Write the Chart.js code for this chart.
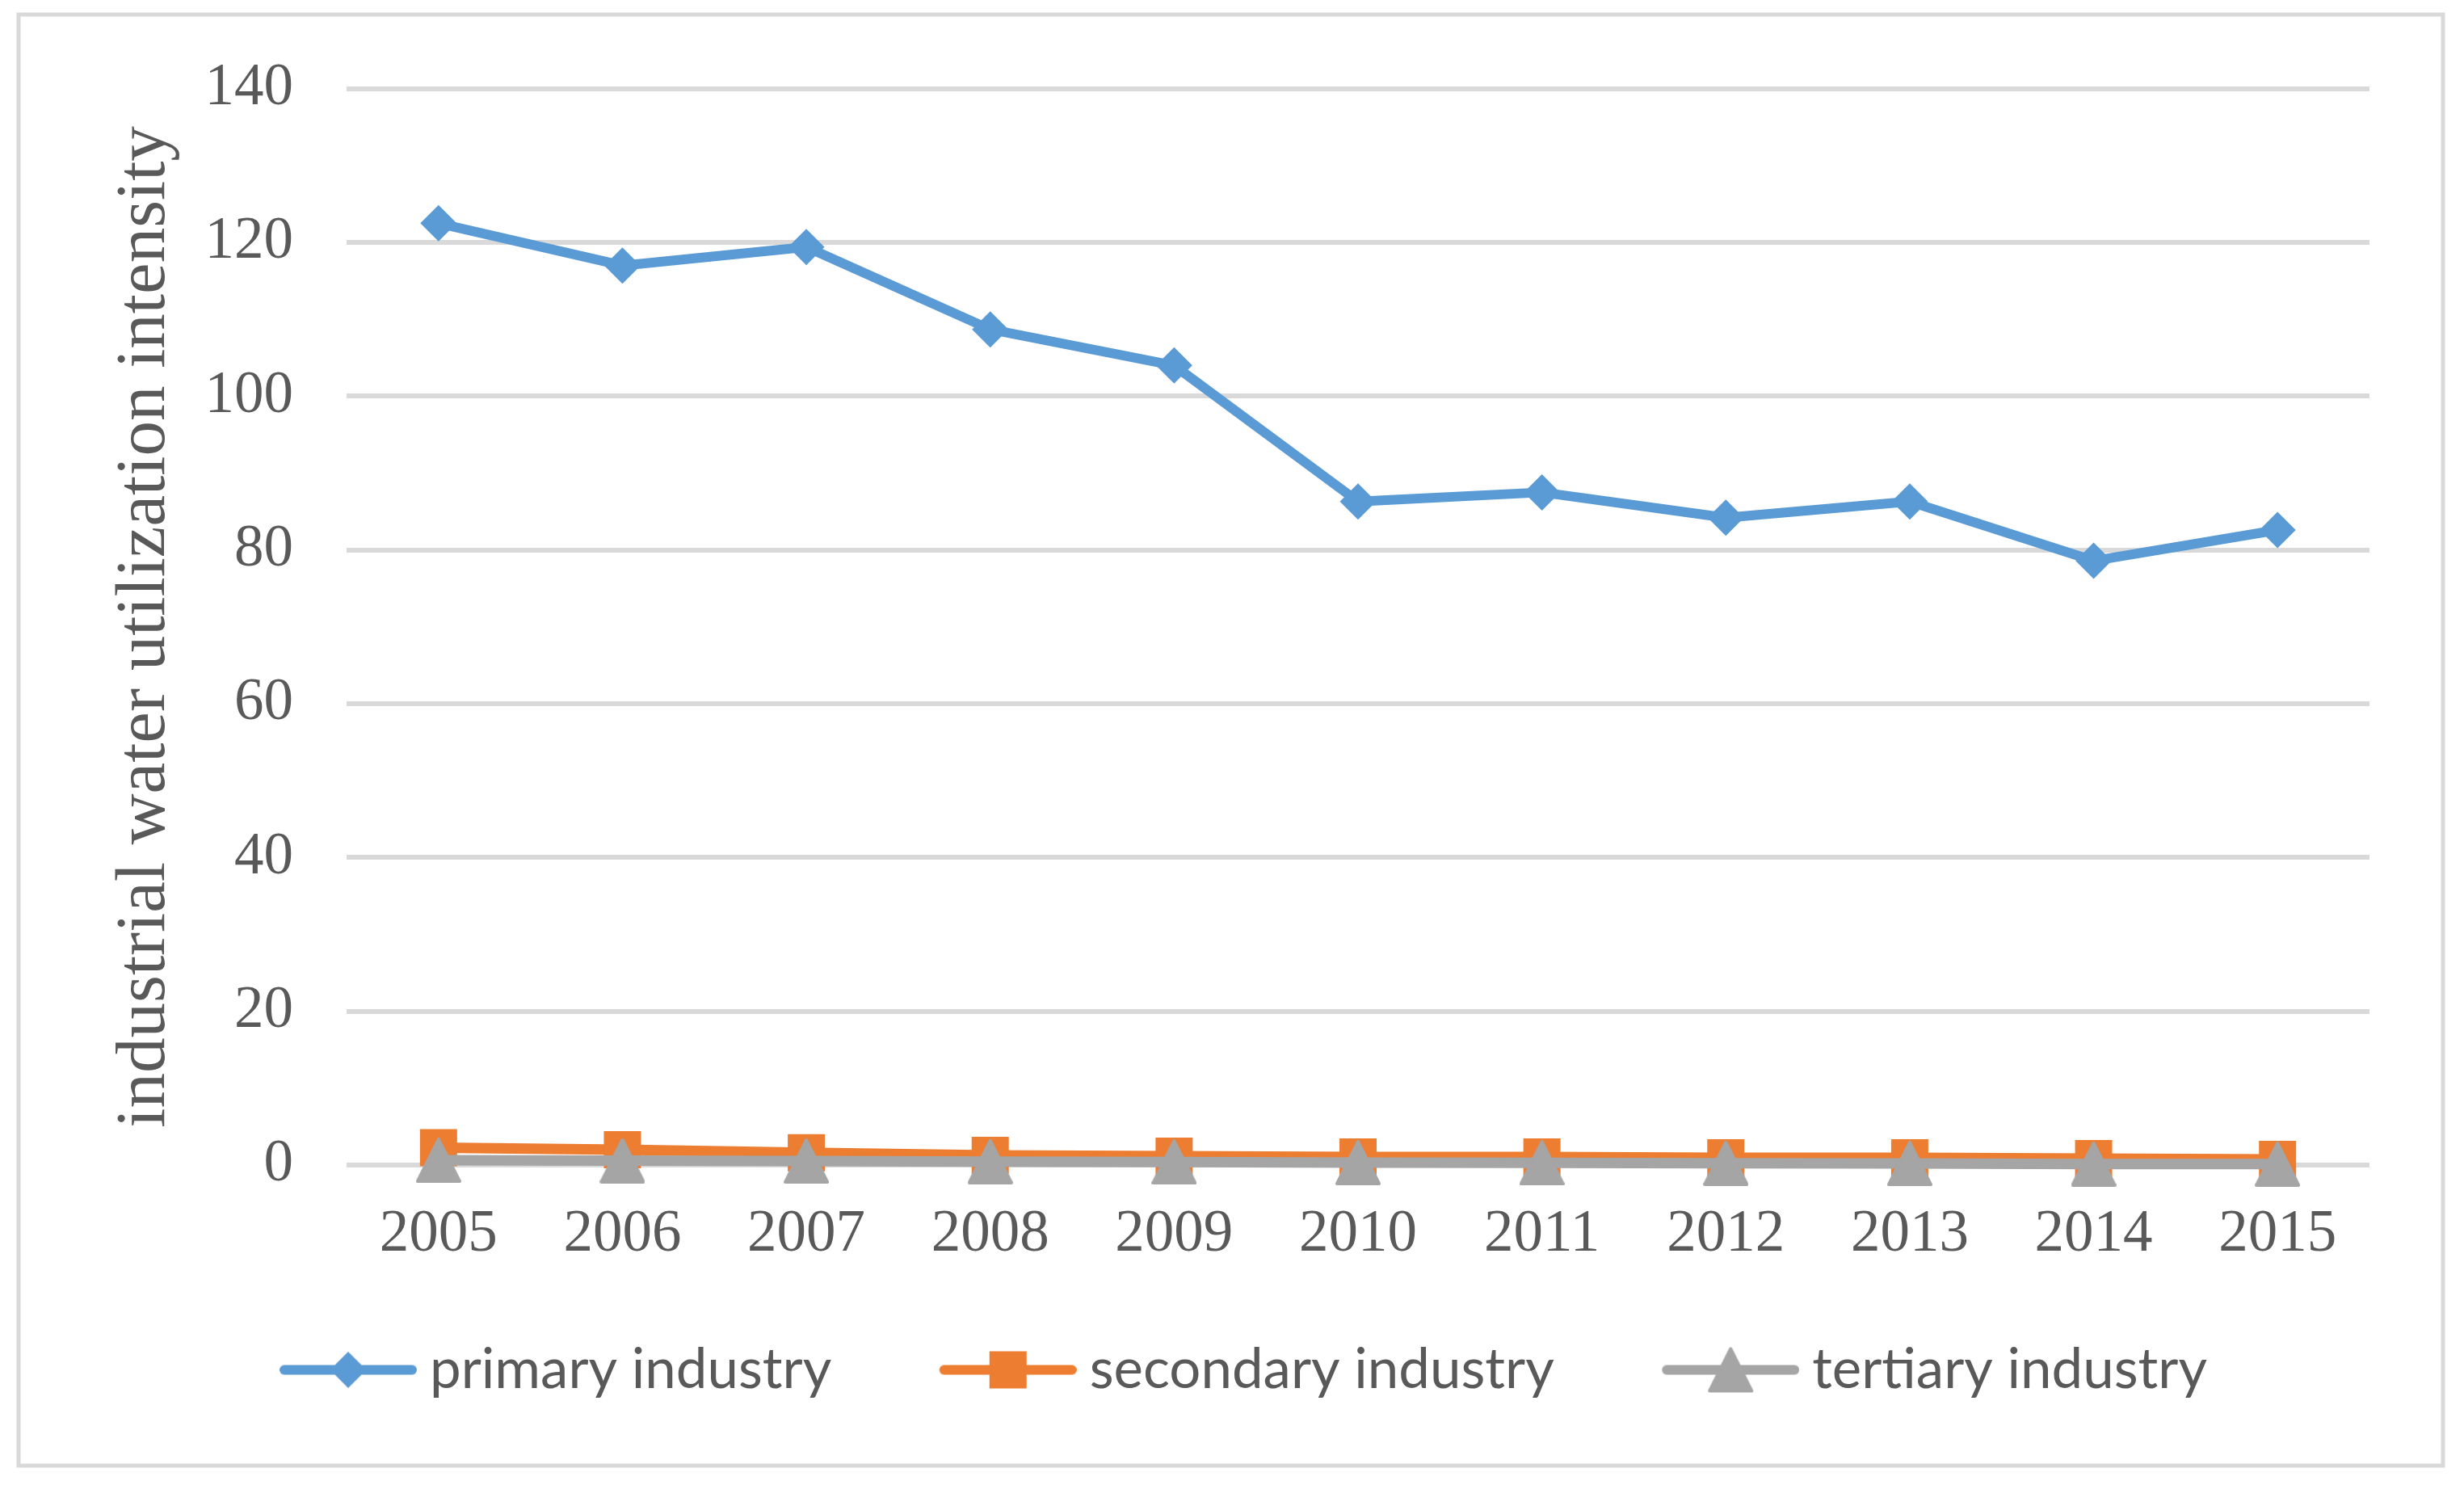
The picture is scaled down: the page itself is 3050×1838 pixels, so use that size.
<!DOCTYPE html>
<html>
<head>
<meta charset="utf-8">
<script src="https://cdn.jsdelivr.net/npm/chart.js@4.4.0/dist/chart.umd.min.js"></script>
<style>
  html, body { margin: 0; padding: 0; background: #ffffff; }
  canvas { display: block; }
</style>
</head>
<body>
<canvas id="chart" width="3050" height="1838"></canvas>
<script>
// ---------------- data ----------------
const years = ['2005', '2006', '2007', '2008', '2009', '2010', '2011', '2012', '2013', '2014', '2015'];
const primaryIndustry   = [122.5, 117.0, 119.4, 108.7, 104.0, 86.3, 87.5, 84.2, 86.3, 78.6, 82.6];
const secondaryIndustry = [2.27, 1.99, 1.60, 1.26, 1.15, 1.05, 1.05, 0.94, 0.94, 0.84, 0.73];
const tertiaryIndustry  = [0.62, 0.57, 0.52, 0.45, 0.40, 0.32, 0.28, 0.24, 0.20, 0.14, 0.12];
const yTickValues = [0, 20, 40, 60, 80, 100, 120, 140];
const yTickLabels = ['0', '20', '40', '60', '80', '100', '120', '140'];
const seriesNames = ['primary industry', 'secondary industry', 'tertiary industry'];
const yAxisTitle = 'industrial water utilization intensity';

// ---------------- styles ----------------
const COLORS = ['#5B9BD5', '#ED7D31', '#A5A5A5'];
const TEXT = '#595959';
const GRID = '#D9D9D9';
const SERIF = "'Liberation Serif', 'Times New Roman', serif";
const SANS = "Lato, 'Open Sans', sans-serif";

const LEG_FS = 69;       // legend font size
const LEG_PAD = 45;      // legend padding
const LEG_BW = 240;      // legend box width
const SYM_W = 170;       // visible legend symbol width
const ICON_W = Math.round(2 * (LEG_BW / 2 + LEG_FS / 2 - 16));

function triangleImage(color, w, h) {
  const c = document.createElement('canvas');
  c.width = w + 4; c.height = h + 4;
  const g = c.getContext('2d');
  g.fillStyle = color; g.strokeStyle = color;
  g.lineJoin = 'round'; g.lineWidth = 4;
  g.beginPath();
  g.moveTo(c.width / 2, 2);
  g.lineTo(c.width - 2, c.height - 2);
  g.lineTo(2, c.height - 2);
  g.closePath();
  g.fill(); g.stroke();
  return c;
}
const triImg = triangleImage(COLORS[2], 52, 52);

function legendIcon(color, marker) {
  const c = document.createElement('canvas');
  c.width = ICON_W; c.height = 80;
  const g = c.getContext('2d');
  const x0 = ICON_W - SYM_W, cy = 40, cx = x0 + SYM_W / 2;
  g.strokeStyle = color; g.lineWidth = 12; g.lineCap = 'round';
  g.beginPath(); g.moveTo(x0 + 6, cy); g.lineTo(ICON_W - 6, cy); g.stroke();
  g.fillStyle = color;
  if (marker === 'diamond') {
    const r = 22.5;
    g.beginPath(); g.moveTo(cx, cy - r); g.lineTo(cx + r, cy); g.lineTo(cx, cy + r); g.lineTo(cx - r, cy); g.closePath(); g.fill();
  } else if (marker === 'square') {
    g.fillRect(cx - 23, cy - 23, 46, 46);
  } else {
    g.drawImage(triImg, cx - triImg.width / 2, cy - triImg.height / 2);
  }
  return c;
}
const legendIcons = [legendIcon(COLORS[0], 'diamond'), legendIcon(COLORS[1], 'square'), legendIcon(COLORS[2], 'triangle')];

const framePlugin = {
  id: 'frame',
  beforeDraw(chart) {
    const ctx = chart.ctx;
    ctx.save();
    ctx.fillStyle = '#ffffff';
    ctx.fillRect(0, 0, chart.width, chart.height);
    ctx.strokeStyle = GRID;
    ctx.lineWidth = 5;
    ctx.strokeRect(23, 18, 3001, 1796);
    ctx.restore();
  }
};

const legendShift = {
  id: 'legendShift',
  afterLayout(chart) {
    const lg = chart.legend;
    if (!lg || !lg.lineWidths) return;
    const pad = lg.options.labels.padding;
    const x1 = (lg.left + pad + lg.right - lg.lineWidths[0]) / 2;
    const visStart = x1 + LEG_BW / 2 - ICON_W / 2 + (ICON_W - SYM_W);
    const d = 346 - visStart;
    lg.left += d; lg.right += d;
  }
};

Chart.defaults.font.family = SERIF;
Chart.defaults.color = TEXT;

new Chart(document.getElementById('chart'), {
  type: 'line',
  data: {
    labels: years,
    datasets: [
      {
        label: seriesNames[0], data: primaryIndustry, order: 2,
        borderColor: COLORS[0], backgroundColor: COLORS[0], borderWidth: 12,
        pointStyle: 'rectRot', pointRadius: 22.5, pointBorderWidth: 0,
        pointBackgroundColor: COLORS[0], borderJoinStyle: 'round', clip: false
      },
      {
        label: seriesNames[1], data: secondaryIndustry, order: 1,
        borderColor: COLORS[1], backgroundColor: COLORS[1], borderWidth: 13,
        pointStyle: 'rect', pointRadius: 32.5, pointBorderWidth: 0,
        pointBackgroundColor: COLORS[1], borderJoinStyle: 'round', clip: false
      },
      {
        label: seriesNames[2], data: tertiaryIndustry, order: 0,
        borderColor: COLORS[2], backgroundColor: COLORS[2], borderWidth: 13,
        pointStyle: triImg, pointRadius: 27, pointBorderWidth: 0,
        pointBackgroundColor: COLORS[2], borderJoinStyle: 'round', clip: false
      }
    ]
  },
  options: {
    responsive: false,
    animation: false,
    devicePixelRatio: 1,
    layout: { padding: { left: 127.8, right: 117, top: 106.7, bottom: 98 } },
    plugins: {
      tooltip: { enabled: false },
      legend: {
        position: 'bottom',
        labels: {
          usePointStyle: true,
          pointStyleWidth: LEG_BW,
          padding: LEG_PAD,
          color: TEXT,
          font: { family: SANS, size: LEG_FS },
          generateLabels: (chart) => chart.data.datasets.map((ds, i) => ({
            text: ds.label,
            pointStyle: legendIcons[i],
            fillStyle: ds.borderColor,
            strokeStyle: ds.borderColor,
            lineWidth: 0,
            hidden: false,
            fontColor: TEXT,
            datasetIndex: i
          }))
        }
      }
    },
    scales: {
      x: {
        offset: true,
        grid: { display: false, drawTicks: false },
        border: { display: false },
        ticks: { padding: 43.2, color: TEXT, font: { family: SERIF, size: 73 }, maxRotation: 0, autoSkip: false }
      },
      y: {
        min: 0, max: 140,
        afterBuildTicks: (s) => { s.ticks = yTickValues.map(v => ({ value: v })); },
        afterFit: (s) => { s.width = 301.2; },
        grid: { color: GRID, lineWidth: 6, drawTicks: false },
        border: { display: false },
        ticks: {
          padding: 66, color: TEXT, font: { family: SERIF, size: 73 },
          callback: (v) => { const i = yTickValues.indexOf(v); return i >= 0 ? yTickLabels[i] : ''; }
        },
        title: { display: true, text: yAxisTitle, color: TEXT, font: { family: SERIF, size: 87 }, padding: 0 }
      }
    }
  },
  plugins: [framePlugin, legendShift]
});
</script>
</body>
</html>
